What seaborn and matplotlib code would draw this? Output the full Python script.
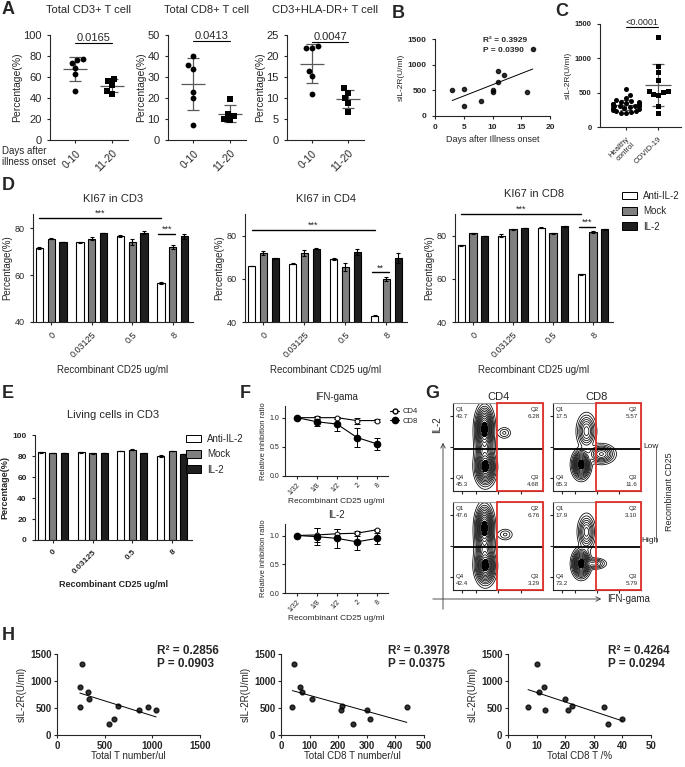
import numpy as np
import pandas as pd
import matplotlib
matplotlib.use('Agg')
import matplotlib.pyplot as plt
import seaborn as sns
from matplotlib.lines import Line2D
from matplotlib.patches import Patch, Rectangle, FancyArrowPatch

# ---------------- data ----------------
# A: percentage of cells by days after illness onset
a_groups = ['0-10', '11-20']
cd3_early = [76, 77, 73.5, 69, 63, 47]
cd3_late = [58.5, 56.5, 52, 47, 44]
cd8_early = [40, 35.5, 34, 23, 20, 7]
cd8_late = [19.5, 12.5, 11.5, 10, 9.5]
hla_early = [22.3, 22, 22, 16.5, 15.3, 11]
hla_late = [12.3, 11.3, 10, 8.8, 6.6]

# B: sIL-2R vs days
b_days = [3, 5, 5, 8, 10, 10, 11, 11, 12, 16, 17]
b_sil2r = [510, 520, 200, 300, 470, 500, 880, 670, 790, 460, 1310]

# C: sIL-2R healthy vs covid
c_groups = ['Healthy\ncontrol', 'COVID-19']
c_healthy = [550, 460, 420, 400, 380, 370, 360, 350, 345, 340, 330, 330, 320, 315,
             310, 300, 300, 290, 280, 270, 260, 250, 240, 230, 220, 210, 200, 310]
c_covid = [1310, 890, 800, 680, 530, 520, 510, 480, 470, 300, 200]

# D / E: bar charts
d_conc = ['0', '0.03125', '0.5', '8']
d_treat = ['Anti-IL-2', 'Mock', 'IL-2']
bar_colors = ['white', '#7f7f7f', '#1e1e1e']

cd3_anti = [71.5, 74.0, 76.5, 56.5]
cd3_mock = [75.5, 75.5, 74.0, 72.0]
cd3_il2 = [74.0, 78.0, 78.0, 76.5]
cd3_anti_err = [0.3, 0.2, 0.4, 0.4]
cd3_mock_err = [0.2, 0.6, 1.2, 0.8]
cd3_il2_err = [0.1, 0.1, 0.7, 1.1]

cd4_anti = [66.0, 67.0, 69.0, 43.0]
cd4_mock = [72.0, 72.0, 65.5, 60.0]
cd4_il2 = [69.5, 74.0, 72.5, 69.5]
cd4_anti_err = [0.1, 0.3, 0.5, 0.1]
cd4_mock_err = [0.9, 1.3, 2.0, 1.0]
cd4_il2_err = [0.2, 0.2, 1.4, 2.3]

cd8_anti = [75.5, 80.0, 83.7, 62.0]
cd8_mock = [81.0, 83.0, 81.0, 81.5]
cd8_il2 = [79.8, 83.5, 84.3, 83.0]
cd8_anti_err = [0.3, 0.7, 0.3, 0.3]
cd8_mock_err = [0.3, 0.2, 0.1, 0.4]
cd8_il2_err = [0.2, 0.1, 0.2, 0.2]

live_anti = [83.5, 83.5, 85.0, 80.0]
live_mock = [83.0, 82.5, 86.0, 85.0]
live_il2 = [83.0, 83.0, 83.0, 82.0]
live_anti_err = [0.2, 0.2, 0.2, 0.5]
live_mock_err = [0.3, 0.2, 0.3, 0.2]
live_il2_err = [0.1, 0.2, 0.3, 0.2]

# F: relative inhibition ratio
f_conc = ['1/32', '1/8', '1/2', '2', '8']
ifn_cd4 = [1.0, 1.0, 1.0, 0.95, 0.95]
ifn_cd4_err = [0.0, 0.03, 0.02, 0.05, 0.02]
ifn_cd8 = [1.0, 0.93, 0.89, 0.66, 0.55]
ifn_cd8_err = [0.0, 0.08, 0.12, 0.16, 0.10]
il2_cd4 = [1.0, 1.01, 1.03, 1.04, 1.10]
il2_cd4_err = [0.0, 0.12, 0.08, 0.04, 0.02]
il2_cd8 = [1.0, 0.98, 0.95, 0.89, 0.95]
il2_cd8_err = [0.0, 0.15, 0.17, 0.14, 0.09]

# G: flow cytometry populations (cx, cy, sx, sy, weight) and quadrant numbers
flow_cd4_low = [(0.35, 0.72, 0.045, 0.11, 1.0), (0.36, 0.27, 0.05, 0.09, 1.0),
                (0.35, 0.5, 0.05, 0.15, 0.35), (0.57, 0.66, 0.04, 0.035, 0.1)]
flow_cd8_low = [(0.38, 0.68, 0.05, 0.09, 0.35), (0.32, 0.3, 0.045, 0.07, 1.0),
                (0.55, 0.42, 0.07, 0.05, 0.4)]
flow_cd4_high = [(0.35, 0.72, 0.045, 0.11, 1.0), (0.36, 0.27, 0.05, 0.09, 1.0),
                 (0.35, 0.5, 0.05, 0.15, 0.35), (0.58, 0.63, 0.045, 0.035, 0.1)]
flow_cd8_high = [(0.38, 0.66, 0.045, 0.09, 0.35), (0.32, 0.3, 0.045, 0.07, 1.0),
                 (0.48, 0.3, 0.06, 0.03, 0.2)]
quad_cd4_low = ['43.7', '6.28', '4.68', '45.3']
quad_cd8_low = ['17.5', '5.57', '11.6', '65.3']
quad_cd4_high = ['47.6', '6.76', '3.29', '42.4']
quad_cd8_high = ['17.9', '3.10', '5.79', '73.2']

# H: sIL-2R vs T cell counts
h1_x = [240, 240, 265, 320, 340, 545, 600, 640, 860, 950, 1040]
h1_y = [890, 520, 1310, 790, 670, 200, 300, 530, 460, 520, 470]
h2_x = [40, 45, 65, 75, 110, 210, 215, 250, 300, 310, 440]
h2_y = [520, 1310, 890, 790, 670, 460, 530, 200, 470, 300, 520]
h3_x = [7, 10, 11, 12.5, 13, 20, 21, 22.5, 33.5, 35, 40]
h3_y = [510, 1310, 790, 890, 460, 670, 460, 530, 520, 200, 300]

# ---------------- style ----------------
sns.set_style('ticks')
plt.rcParams['font.family'] = ['Liberation Sans', 'DejaVu Sans']
plt.rcParams['axes.linewidth'] = 0.8
plt.rcParams['xtick.major.size'] = 2.5
plt.rcParams['ytick.major.size'] = 2.5
plt.rcParams['xtick.major.width'] = 0.8
plt.rcParams['ytick.major.width'] = 0.8

W, H = 685, 767
fig = plt.figure(figsize=(W / 100, H / 100), dpi=100)


def add_ax(x0, y0, x1, y1):
    return fig.add_axes([x0 / W, 1 - y1 / H, (x1 - x0) / W, (y1 - y0) / H])


def ftext(x, y, s, **kw):
    fig.text(x / W, 1 - y / H, s, **kw)


def letter(x, y, s):
    ftext(x, y, s, fontsize=13, fontweight='bold', va='center', ha='left')


def sig(ax, x0, x1, y, label, fs=7, lw=1.0):
    ax.plot([x0, x1], [y, y], color='black', lw=lw, clip_on=False)
    ax.text((x0 + x1) / 2, y, label, ha='center', va='bottom', fontsize=fs, clip_on=False)


# ---------------- A ----------------
def dot_panel(ax, early, late, ymax, step, pval, ybar, title):
    df = pd.DataFrame({'grp': [a_groups[0]] * len(early) + [a_groups[1]] * len(late),
                       'val': early + late})
    sns.swarmplot(data=df[df.grp == a_groups[0]], x='grp', y='val', order=a_groups,
                  color='black', size=4.2, marker='o', ax=ax)
    sns.swarmplot(data=df[df.grp == a_groups[1]], x='grp', y='val', order=a_groups,
                  color='black', size=4.2, marker='s', ax=ax)
    for i, v in enumerate([early, late]):
        m, s = np.mean(v), np.std(v, ddof=1)
        ax.hlines(m, i - 0.33, i + 0.33, color='0.35', lw=0.9)
        ax.errorbar(i, m, yerr=s, color='0.35', lw=0.9, capsize=4, capthick=0.9)
    sig(ax, 0, 1, ybar, pval, fs=8, lw=0.8)
    ax.set_xlim(-0.7, 1.45)
    ax.set_ylim(0, ymax)
    ax.set_yticks(np.arange(0, ymax + 1, step))
    ax.set_xlabel('')
    ax.set_ylabel('Percentage(%)', fontsize=7.5, labelpad=1)
    ax.set_title(title, fontsize=8, pad=16)
    ax.tick_params(axis='y', labelsize=8)
    ax.tick_params(axis='x', labelsize=7.5)
    plt.setp(ax.get_xticklabels(), rotation=45, ha='right', rotation_mode='anchor')
    sns.despine(ax=ax)


ax = add_ax(50, 35, 128, 140)
dot_panel(ax, cd3_early, cd3_late, 100, 20, '0.0165', 92, 'Total CD3+ T cell')
ax = add_ax(168, 35, 246, 140)
dot_panel(ax, cd8_early, cd8_late, 50, 10, '0.0413', 47, 'Total CD8+ T cell')
ax = add_ax(287, 35, 364, 140)
dot_panel(ax, hla_early, hla_late, 25, 5, '0.0047', 23.3, 'CD3+HLA-DR+ T cell')
ftext(2, 151, 'Days after', fontsize=7, va='center')
ftext(2, 162, 'illness onset', fontsize=7, va='center')
letter(2, 10, 'A')

# ---------------- B ----------------
ax = add_ax(435, 39, 550, 116)
sns.regplot(x=b_days, y=b_sil2r, ci=None, ax=ax, color='black',
            scatter_kws=dict(s=9), line_kws=dict(lw=0.7))
ax.set_xlim(0, 20)
ax.set_ylim(0, 1500)
ax.set_xticks([0, 5, 10, 15, 20])
ax.set_yticks([0, 500, 1000, 1500])
ax.tick_params(labelsize=6)
for t in ax.get_xticklabels() + ax.get_yticklabels():
    t.set_fontweight('bold')
ax.set_xlabel('Days after Illness onset', fontsize=6.5, labelpad=3)
ax.set_ylabel('sIL-2R(U/ml)', fontsize=6, labelpad=2)
sns.despine(ax=ax)
ftext(483, 40, 'R² = 0.3929', fontsize=6, fontweight='bold', va='center')
ftext(483, 50, 'P = 0.0390', fontsize=6, fontweight='bold', va='center')
letter(392, 14, 'B')

# ---------------- C ----------------
ax = add_ax(600, 24, 681, 127)
cdf = pd.DataFrame({'grp': [c_groups[0]] * len(c_healthy) + [c_groups[1]] * len(c_covid),
                    'val': c_healthy + c_covid})
sns.swarmplot(data=cdf[cdf.grp == c_groups[0]], x='grp', y='val', order=c_groups,
              color='black', size=3.6, marker='o', ax=ax, warn_thresh=1)
sns.swarmplot(data=cdf[cdf.grp == c_groups[1]], x='grp', y='val', order=c_groups,
              color='black', size=3.6, marker='s', ax=ax, warn_thresh=1)
for i, v in enumerate([c_healthy, c_covid]):
    m, s = np.mean(v), np.std(v, ddof=1)
    ax.hlines(m, i - 0.4, i + 0.4, color='0.35', lw=0.9)
    ax.errorbar(i, m, yerr=s, color='0.35', lw=0.9, capsize=4, capthick=0.9)
sig(ax, 0, 1, 1450, '<0.0001', fs=6.5, lw=0.8)
ax.set_xlim(-0.8, 1.7)
ax.set_ylim(0, 1500)
ax.set_yticks([0, 500, 1000, 1500])
ax.set_xlabel('')
ax.set_ylabel('sIL-2R(U/ml)', fontsize=6, labelpad=2)
ax.tick_params(labelsize=5.5)
for t in ax.get_yticklabels():
    t.set_fontweight('bold')
plt.setp(ax.get_xticklabels(), rotation=45, ha='right', rotation_mode='anchor')
sns.despine(ax=ax)
letter(555, 11, 'C')


# ---------------- D ----------------
def bar_panel(ax, anti, mock, il2, anti_err, mock_err, il2_err):
    df = pd.DataFrame({'conc': d_conc * 3,
                       'treatment': np.repeat(d_treat, len(d_conc)),
                       'value': anti + mock + il2})
    sns.barplot(data=df, x='conc', y='value', hue='treatment', order=d_conc,
                hue_order=d_treat, palette=bar_colors, saturation=1, width=0.87,
                gap=0.38, edgecolor='black', linewidth=0.8, legend=False, ax=ax)
    for j, (vals, errs) in enumerate(zip([anti, mock, il2], [anti_err, mock_err, il2_err])):
        xs = np.arange(len(d_conc)) + (j - 1) * 0.29
        ax.errorbar(xs, vals, yerr=errs, fmt='none', ecolor='black', elinewidth=0.8,
                    capsize=1.5, capthick=0.8)
    ax.set_xlim(-0.45, 3.5)
    ax.set_xlabel('Recombinant CD25 ug/ml', fontsize=7)
    ax.set_ylabel('Percentage(%)', fontsize=7, labelpad=2)
    ax.tick_params(labelsize=6.5)
    plt.setp(ax.get_xticklabels(), rotation=45, ha='right', rotation_mode='anchor')
    sns.despine(ax=ax)


ax = add_ax(33, 214, 193, 322)
bar_panel(ax, cd3_anti, cd3_mock, cd3_il2, cd3_anti_err, cd3_mock_err, cd3_il2_err)
ax.set_ylim(40, 86)
ax.set_yticks([40, 60, 80])
ax.set_title('KI67 in CD3', fontsize=8, pad=9)
sig(ax, -0.29, 2.71, 84.5, '***', fs=6.5)
sig(ax, 2.64, 3.06, 77.5, '***', fs=6.5)

ax = add_ax(245, 214, 407, 322)
bar_panel(ax, cd4_anti, cd4_mock, cd4_il2, cd4_anti_err, cd4_mock_err, cd4_il2_err)
ax.set_ylim(40, 90)
ax.set_yticks([40, 60, 80])
ax.set_title('KI67 in CD4', fontsize=8, pad=9)
sig(ax, -0.29, 2.71, 82.5, '***', fs=6.5)
sig(ax, 2.64, 3.06, 63, '**', fs=6.5)

ax = add_ax(455, 214, 613, 322)
bar_panel(ax, cd8_anti, cd8_mock, cd8_il2, cd8_anti_err, cd8_mock_err, cd8_il2_err)
ax.set_ylim(40, 90)
ax.set_yticks([40, 60, 80])
ax.set_title('KI67 in CD8', fontsize=8, pad=12)
sig(ax, -0.29, 2.71, 90, '***', fs=6.5)
sig(ax, 2.64, 3.06, 84, '***', fs=6.5)

bar_handles = [Patch(facecolor=c, edgecolor='black', lw=0.7, label=l)
               for c, l in zip(bar_colors, d_treat)]
fig.legend(handles=bar_handles, loc='upper left', bbox_to_anchor=(618 / W, 1 - 187 / H),
           frameon=False, fontsize=7, handlelength=1.6, handleheight=0.8,
           labelspacing=0.55, handletextpad=0.6, borderaxespad=0)
letter(2, 186, 'D')

# ---------------- E ----------------
ax = add_ax(35, 435, 192, 540)
bar_panel(ax, live_anti, live_mock, live_il2, live_anti_err, live_mock_err, live_il2_err)
ax.set_ylim(0, 100)
ax.set_yticks(np.arange(0, 101, 20))
ax.set_title('Living cells in CD3', fontsize=8, pad=12)
ax.set_xlabel('Recombinant CD25 ug/ml', fontsize=6.5, fontweight='bold')
ax.set_ylabel('Percentage(%)', fontsize=6.5, fontweight='bold', labelpad=2)
ax.tick_params(labelsize=6)
for t in ax.get_xticklabels() + ax.get_yticklabels():
    t.set_fontweight('bold')
fig.legend(handles=bar_handles, loc='upper left', bbox_to_anchor=(182 / W, 1 - 430 / H),
           frameon=False, fontsize=7, handlelength=1.6, handleheight=0.8,
           labelspacing=0.55, handletextpad=0.6, borderaxespad=0)
letter(2, 393, 'E')


# ---------------- F ----------------
def line_panel(ax, cd4, cd4_err, cd8, cd8_err, title):
    xs = np.arange(len(f_conc))
    ax.errorbar(xs, cd4, yerr=cd4_err, color='black', lw=0.8, marker='o', ms=3.5,
                mfc='white', mec='black', mew=0.7, capsize=2, capthick=0.7, elinewidth=0.7)
    ax.errorbar(xs, cd8, yerr=cd8_err, color='black', lw=0.8, marker='o', ms=4.5,
                capsize=2, capthick=0.7, elinewidth=0.7)
    ax.set_xlim(-0.6, 4.55)
    ax.set_ylim(0, 1.2)
    ax.set_yticks([0.0, 0.5, 1.0])
    ax.set_xticks(xs)
    ax.set_xticklabels(f_conc)
    ax.tick_params(labelsize=5, pad=1.5)
    plt.setp(ax.get_xticklabels(), rotation=45, ha='right', rotation_mode='anchor')
    ax.set_ylabel('Relative inhibition ratio', fontsize=5.5, labelpad=2)
    ax.set_xlabel('Recombinant CD25 ug/ml', fontsize=6, labelpad=1)
    ax.set_title(title, fontsize=7, pad=4)
    sns.despine(ax=ax)


ax = add_ax(285, 406, 388, 476)
line_panel(ax, ifn_cd4, ifn_cd4_err, ifn_cd8, ifn_cd8_err, 'IFN-gama')
ax = add_ax(285, 524, 388, 593)
line_panel(ax, il2_cd4, il2_cd4_err, il2_cd8, il2_cd8_err, 'IL-2')
f_handles = [Line2D([0], [0], color='black', lw=0.8, marker='o', ms=3.5, mfc='white', label='CD4'),
             Line2D([0], [0], color='black', lw=0.8, marker='o', ms=4.5, label='CD8')]
fig.legend(handles=f_handles, loc='upper left', bbox_to_anchor=(387 / W, 1 - 405 / H),
           frameon=False, fontsize=5.5, handlelength=1.2, labelspacing=0.3,
           handletextpad=0.4, borderaxespad=0)
letter(240, 393, 'F')

# ---------------- G ----------------
gx, gy = np.meshgrid(np.linspace(0, 1, 220), np.linspace(0, 1, 220))


def flow_panel(ax, comps, quads, qx, qy):
    z = np.zeros_like(gx)
    for cx, cy, sx, sy, w in comps:
        z += w * np.exp(-0.5 * (((gx - cx) / sx) ** 2 + ((gy - cy) / sy) ** 2))
    zmax = z.max()
    levels = zmax * np.array([0.02, 0.045, 0.08, 0.12, 0.17, 0.23, 0.3, 0.38, 0.47, 0.57, 0.68, 0.8])
    ax.contour(gx, gy, z, levels=levels, colors='black', linewidths=0.55)
    ax.contourf(gx, gy, z, levels=[0.8 * zmax, zmax * 1.01], colors='black')
    ax.axhline(qy, color='black', lw=1.3)
    ax.add_patch(Rectangle((qx, 0), 1 - qx, 1, fill=False, edgecolor='#e0302a', lw=1.3,
                           clip_on=False, zorder=5))
    ax.set_xlim(0, 1)
    ax.set_ylim(0, 1)
    ax.set_xticks([0.1, 0.25, 0.5, 0.75])
    ax.set_yticks([0.15, 0.5, 0.85])
    ax.set_xticklabels([])
    ax.set_yticklabels([])
    ax.tick_params(length=2, width=0.8)
    for sp in ['top', 'right']:
        ax.spines[sp].set_color('0.6')
    kw = dict(fontsize=4.5, transform=ax.transAxes, linespacing=1.6)
    ax.text(0.03, 0.96, 'Q1\n' + quads[0], ha='left', va='top', **kw)
    ax.text(0.96, 0.96, 'Q2\n' + quads[1], ha='right', va='top', **kw)
    ax.text(0.96, 0.04, 'Q3\n' + quads[2], ha='right', va='bottom', **kw)
    ax.text(0.03, 0.04, 'Q4\n' + quads[3], ha='left', va='bottom', **kw)


ax = add_ax(453, 403, 543, 491)
flow_panel(ax, flow_cd4_low, quad_cd4_low, 0.49, 0.48)
ax = add_ax(553, 403, 641, 491)
flow_panel(ax, flow_cd8_low, quad_cd8_low, 0.49, 0.48)
ax = add_ax(453, 502, 543, 590)
flow_panel(ax, flow_cd4_high, quad_cd4_high, 0.49, 0.49)
ax = add_ax(553, 502, 641, 590)
flow_panel(ax, flow_cd8_high, quad_cd8_high, 0.49, 0.49)

ftext(498, 397, 'CD4', fontsize=8, ha='center', va='center')
ftext(597, 397, 'CD8', fontsize=8, ha='center', va='center')


def fig_arrow(x0, y0, x1, y1, style):
    fig.add_artist(FancyArrowPatch((x0 / W, 1 - y0 / H), (x1 / W, 1 - y1 / H),
                                   transform=fig.transFigure, arrowstyle=style,
                                   mutation_scale=8, lw=0.6, color='0.2'))


fig_arrow(443, 612, 443, 440, '->')
fig_arrow(430, 599, 604, 599, '->')
ftext(437, 425, 'IL-2', fontsize=7, rotation=90, ha='center', va='center')
ftext(607, 599, 'IFN-gama', fontsize=7, ha='left', va='center')
ftext(643, 447, 'Low', fontsize=6, ha='left', va='center')
ftext(641, 540, 'High', fontsize=6, ha='left', va='center')
fig.add_artist(Line2D([656 / W, 656 / W], [1 - 447 / H, 1 - 542 / H], color='0.3', lw=0.6))
ftext(670, 492, 'Recombinant CD25', fontsize=6.5, rotation=90, ha='center', va='center')
letter(425, 393, 'G')


# ---------------- H ----------------
def corr_panel(ax, x, y, xmax, xstep, xlabel, r2, p, tx):
    sns.regplot(x=x, y=y, ci=None, ax=ax, color='black',
                scatter_kws=dict(s=12), line_kws=dict(lw=0.7))
    ax.set_xlim(0, xmax)
    ax.set_ylim(0, 1500)
    ax.set_xticks(np.arange(0, xmax + 1, xstep))
    ax.set_yticks([0, 500, 1000, 1500])
    ax.tick_params(labelsize=7, pad=1.5)
    for t in ax.get_xticklabels() + ax.get_yticklabels():
        t.set_fontweight('bold')
    ax.set_xlabel(xlabel, fontsize=7, labelpad=0.5)
    ax.set_ylabel('sIL-2R(U/ml)', fontsize=7, labelpad=2)
    sns.despine(ax=ax)
    ftext(tx, 651, r2, fontsize=8.5, fontweight='bold', va='center')
    ftext(tx, 664, p, fontsize=8.5, fontweight='bold', va='center')


ax = add_ax(57, 654, 200, 735)
corr_panel(ax, h1_x, h1_y, 1500, 500, 'Total T number/ul', 'R² = 0.2856', 'P = 0.0903', 157)
ax = add_ax(281, 654, 424, 735)
corr_panel(ax, h2_x, h2_y, 500, 100, 'Total CD8 T number/ul', 'R² = 0.3978', 'P = 0.0375', 388)
ax = add_ax(508, 654, 651, 735)
corr_panel(ax, h3_x, h3_y, 50, 10, 'Total CD8 T /%', 'R² = 0.4264', 'P = 0.0294', 608)
letter(2, 636, 'H')

fig.savefig('out.png', dpi=100)
